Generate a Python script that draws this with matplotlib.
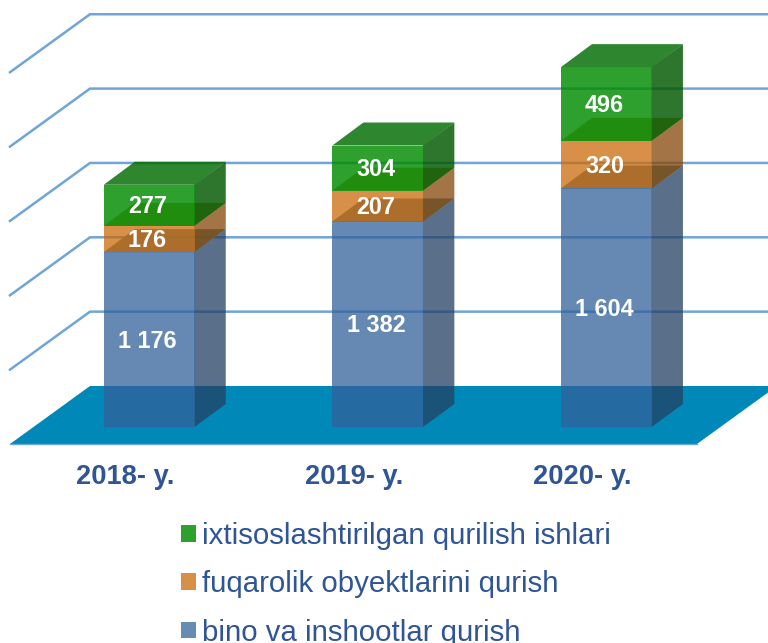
import matplotlib
matplotlib.use('Agg')
import matplotlib.pyplot as plt
from matplotlib.patches import Patch, Polygon

plt.rcParams['font.family'] = ['Liberation Sans', 'DejaVu Sans']

years = ['2018- y.', '2019- y.', '2020- y.']
bino = [1176, 1382, 1604]
fuqarolik = [176, 207, 320]
ixtisos = [277, 304, 496]
labels = ['bino va inshootlar qurish', 'fuqarolik obyektlarini qurish',
          'ixtisoslashtirilgan qurilish ishlari']
grid_values = [500, 1000, 1500, 2000, 2500]

W, H = 768, 643
PX_X = 228.6       # pixels per category
PX_Y = 0.1487      # pixels per value unit
BASE_X, BASE_Y = 149.25, 427

TEXT_BLUE = '#2F5597'
GRID = '#6FA5D8'
FLOOR = '#0088B8'

# front, side, top colours, alpha of front/side, alpha of top
STYLES = [
    ('#326198', '#234063', '#436E7F', 0.75, 0.9),
    ('#CB6A0B', '#844708', '#AC903D', 0.75, 0.9),
    ('#008B00', '#005800', '#006B00', 0.82, 0.82),
]
LEGEND_COLORS = ['#658CB2', '#D88F48', '#2EA02E']


def dx(px):
    return px / PX_X


def dy(px):
    return px / PX_Y


fig = plt.figure(figsize=(W / 100, H / 100), dpi=100)
ax = fig.add_axes([0, 0, 1, 1])
ax.set_xlim(-BASE_X / PX_X, (W - BASE_X) / PX_X)
ax.set_ylim(-(H - BASE_Y) / PX_Y, BASE_Y / PX_Y)
ax.axis('off')

# floor: runs from the front edge back to the wall
fl = dy(-17)
left = dx(10 - BASE_X)
right = dx(697 - BASE_X)
ax.add_patch(Polygon([(left, fl), (right, fl),
                      (right + dx(80), fl + dy(58)), (left + dx(80), fl + dy(58))],
                     facecolor=FLOOR, edgecolor='none', zorder=1))
ax.plot([left, right], [fl, fl], color=GRID, lw=1, zorder=1)

# grid lines on the left wall and back wall
for v in grid_values:
    y0 = fl + dy(58) + v
    ax.plot([left, left + dx(80), dx(W - BASE_X)], [y0 - dy(58), y0, y0],
            color=GRID, lw=1.8, zorder=2, solid_joinstyle='miter')


def draw_box(x, bottom, height, style, z):
    front, side, top, alpha, top_alpha = style
    hw = dx(45.5)
    ox, oy = dx(31), dy(23)
    t = bottom + height
    ax.add_patch(Polygon([(x - hw, t), (x + hw, t), (x + hw + ox, t + oy), (x - hw + ox, t + oy)],
                         facecolor=top, edgecolor='none', alpha=top_alpha, zorder=z))
    # side starts a little inside the front so no white seam shows
    ax.add_patch(Polygon([(x + hw - dx(0.4), bottom), (x + hw + ox, bottom + oy),
                          (x + hw + ox, t + oy), (x + hw - dx(0.4), t)],
                         facecolor=side, edgecolor='none', alpha=alpha, zorder=z + 1))
    ax.bar(x, height, width=2 * hw, bottom=bottom, color=front, alpha=alpha, zorder=z + 1)


for i in range(len(years)):
    bottom = 0
    for j, vals in enumerate([bino, fuqarolik, ixtisos]):
        v = vals[i]
        draw_box(i, bottom, v, STYLES[j], 5 + j * 3)
        s = f'{v:,}'.replace(',', ' ')
        ax.text(i - dx(2), bottom + v / 2 - dy(1.5), s, color='white', fontsize=16.8,
                fontweight='bold', ha='center', va='center', zorder=20)
        bottom += v
    ax.text(i - dx(24), dy(-50), years[i], color=TEXT_BLUE, fontsize=19.6,
            fontweight='bold', ha='center', va='center', zorder=20)

handles = [Patch(facecolor=c, edgecolor='none') for c in LEGEND_COLORS]
leg = ax.legend(handles[::-1], labels[::-1], loc='upper left', frameon=False,
                bbox_to_anchor=(181 / W, 1 - 522 / H), fontsize=21.15,
                labelcolor=TEXT_BLUE, handlelength=0.5, handleheight=0.5,
                handletextpad=0.2, labelspacing=0.69, borderpad=0, borderaxespad=0)

fig.savefig('out.png', dpi=100)
